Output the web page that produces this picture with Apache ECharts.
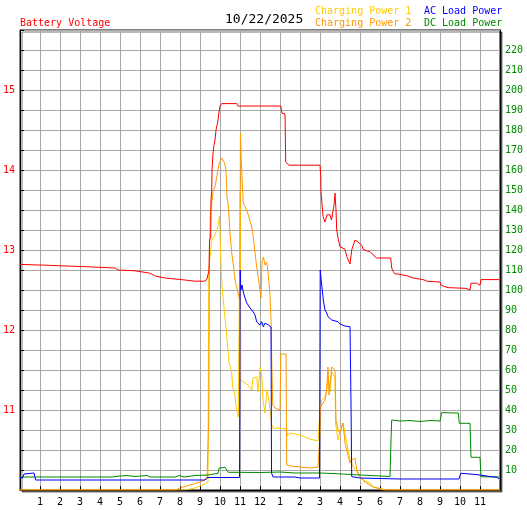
<!DOCTYPE html>
<html>
<head>
<meta charset="utf-8">
<script src="https://cdn.jsdelivr.net/npm/echarts@6/dist/echarts.min.js"></script>
<style>html,body{margin:0;padding:0;background:#fff;}#c{width:527px;height:510px;}</style>
</head>
<body>
<div id="c"></div>
<script>
// ---- Data (hours since midnight) ----
const dateLabel = '10/22/2025';
const hourTicks = [1,2,3,4,5,6,7,8,9,10,11,12,1,2,3,4,5,6,7,8,9,10,11];

const batteryHours = [0,1.25,3.4,3.5,4.75,4.9,5.75,6.5,6.75,7.25,8.25,8.75,9.25,9.35,9.425,9.45,9.475,9.535,9.55,9.585,9.6,9.65,9.7,9.75,9.8,9.85,9.9,9.95,10.0,10.085,10.835,10.9,12.035,12.085,12.125,13.035,13.085,13.1,13.25,13.285,13.365,13.45,15.0,15.035,15.05,15.1,15.15,15.25,15.35,15.5,15.575,15.65,15.7,15.75,15.8,15.835,15.9,16.0,16.085,16.25,16.335,16.5,16.585,16.75,16.835,16.9,17.085,17.15,17.335,17.4,17.5,17.65,17.835,17.875,18.535,18.585,18.665,18.75,18.9,19.0,19.4,19.5,19.65,19.75,20.15,20.25,20.335,20.4,21.0,21.05,21.25,21.335,21.415,21.5,22.3,22.35,22.5,22.55,22.835,22.85,23.0,23.05,23.95];
const batteryVolts = [12.82,12.81,12.79,12.775,12.775,12.75,12.74,12.71,12.675,12.65,12.625,12.61,12.61,12.64,12.64,12.75,13.125,13.16,13.625,13.75,14.0,14.21,14.31,14.375,14.5,14.56,14.625,14.725,14.8,14.83,14.83,14.80,14.80,14.775,14.80,14.80,14.775,14.71,14.70,14.10,14.075,14.06,14.06,13.94,13.73,13.71,13.42,13.35,13.44,13.44,13.375,13.375,13.56,13.71,13.5,13.25,13.15,13.04,13.02,13.01,12.92,12.825,13.0,13.125,13.13,13.10,13.06,13.01,12.99,12.98,12.98,12.94,12.90,12.90,12.90,12.775,12.73,12.70,12.70,12.675,12.675,12.65,12.65,12.63,12.63,12.61,12.61,12.60,12.60,12.56,12.54,12.53,12.53,12.52,12.52,12.50,12.50,12.585,12.585,12.56,12.56,12.63,12.63];

const charge1Hours = [0,8.25,8.5,8.75,9.0,9.25,9.4,9.435,9.535,9.6,9.7,9.85,9.9,9.975,10.015,10.04,10.1,10.25,10.375,10.45,10.585,10.625,10.75,10.8,10.915,10.975,11.01,11.04,11.1,11.25,11.4,11.585,11.65,11.75,11.835,11.9,12.0,12.085,12.15,12.25,12.335,12.415,12.5,12.585,12.665,13.085,13.325,13.365,13.5,14.0,14.5,14.9,14.975,15.0,15.085,15.25,15.335,15.4,15.5,15.585,15.75,15.775,15.9,16.0,16.15,16.25,16.4,16.5,16.65,16.835,17.0,17.25,17.5,17.65,18.0,18.15,24];
const charge1Watts = [0,0,0.5,1,2,3,4,110,120,125,126.5,130,132.5,137,137.5,115,101.5,86,72.5,64,58.5,52,47.5,42,36.5,36,150,55,56,53.5,52.5,50,56,55,56.5,49,61.5,57.5,45,38.5,50,46.5,40,32.5,30.85,30.85,30.5,27,28.5,27.5,25.5,24.5,24.5,40,45,46.5,51,57.5,49,59,56.5,33.5,25,30,33.5,28.5,20,15,12,9,6.5,4.5,3.5,1.5,0.5,0,0];

const charge2Hours = [0,7.8,8.0,8.5,9.0,9.35,9.415,9.435,9.475,9.525,9.585,9.665,9.75,9.835,9.965,10.085,10.165,10.225,10.3,10.35,10.415,10.5,10.585,10.675,10.75,10.9,10.99,11.02,11.06,11.125,11.165,11.25,11.335,11.415,11.5,11.585,11.665,11.75,11.835,11.915,12.0,12.05,12.1,12.165,12.25,12.335,12.415,12.5,12.55,12.585,12.635,12.75,13.0,13.04,13.3,13.335,13.5,14.0,14.5,14.9,14.975,15.0,15.035,15.25,15.335,15.4,15.45,15.5,15.585,15.65,15.75,15.8,15.9,16.0,16.085,16.15,16.25,16.335,16.5,16.585,16.75,16.835,17.0,17.25,17.65,18.0,18.3,24];
const charge2Watts = [0,0,1,2.5,4,5.5,6,35,120,140,143.5,150,151.5,156.5,163.5,166,166.65,163.5,160,146.5,142.5,128.5,118.5,112,105,98.5,95,178.5,165,151.5,143.5,142,141.5,137.5,137.5,131.5,126.5,118.5,111.5,106,100,96,114,116.5,112.5,114,107.5,97.5,85,65,42.5,41,40,68,68,12.5,12,11.5,11,11.5,11.5,28.5,41.5,45,50,61.5,47.5,52.5,61.5,61,60,35,30,28.5,31.5,33.5,23.5,20,13.5,15,16,10,6.5,4,1.5,0.75,0,0];

const acLoadHours = [0,0.125,0.2,0.3,0.7,0.775,9.25,9.35,10.975,11.01,11.04,11.1,11.165,11.25,11.335,11.415,11.5,11.585,11.665,11.75,11.835,11.915,12.0,12.085,12.165,12.25,12.335,12.415,12.5,12.55,12.575,12.65,13.75,14.0,14.975,15.01,15.085,15.165,15.25,15.335,15.4,15.5,15.585,15.65,15.9,16.0,16.25,16.335,16.5,16.55,16.585,17.0,19.0,21.95,22.035,22.5,23.0,23.5,23.85,23.95];
const acLoadWatts = [6,6,8,8.5,8.5,5,5,6.25,6.25,110,100,102.5,99,96,93.5,92.5,91,90,89,87.5,84,85,82.5,84.15,81.65,83.5,84,82.5,81.5,81.5,8.5,6.5,6.5,6,6,110,102.5,95,90,88.5,86.65,86,85,84.15,84.15,83,82,81.65,81.65,43.5,6.65,6,5.5,5.5,8.35,8,7.5,6.75,6.35,5.5];

const dcLoadHours = [0,1.35,1.4,1.5,3.85,3.9,4.0,4.6,4.7,5.0,5.35,5.75,6.35,6.5,7.8,7.95,8.2,8.75,9.4,9.45,9.9,9.95,10.0,10.25,10.335,10.415,10.9,11.0,12.0,13.0,13.75,15.0,15.65,15.7,17.0,17.1,18.5,18.55,18.585,19.0,19.5,20.0,20.5,21.0,21.085,21.915,21.965,22.5,22.55,23.0,23.05,24.0];
const dcLoadWatts = [6.5,6.5,7.25,6.5,6.5,7.25,6.5,6.5,7.25,7,7.25,6.75,7.25,6.5,6.5,7.25,6.5,7.25,7.5,8.35,8.35,10.85,11.35,11.35,10,8.85,8.85,9.15,8.75,9,8.5,8.5,8.25,7.5,7.5,6.75,6.75,25,35,34.5,34.75,34.25,34.75,34.5,38.65,38.5,33.35,33.35,16.35,16.35,6.65,6.5];

// ---- Chart ----
const FONT = 'DejaVu Sans Mono';
const pairs = (xs, ys) => xs.map((x, i) => [x, ys[i]]);
const chart = echarts.init(document.getElementById('c'), null, {renderer: 'canvas'});

function legendTitle(text, left, top, color, size) {
  return {text, left, top, padding: 0,
    textStyle: {color, fontSize: size || 10, fontFamily: FONT, fontWeight: 'normal'}};
}

const lineSeries = (name, data, color, yIndex) => ({
  name, type: 'line', data, yAxisIndex: yIndex, showSymbol: false, symbol: 'none',
  lineStyle: {color, width: 1}, itemStyle: {color}, animation: false, z: 3
});

chart.setOption({
  animation: false,
  backgroundColor: '#fff',
  title: [
    legendTitle('Battery Voltage', 20, 18, '#ff0000'),
    legendTitle(dateLabel, 225, 13, '#000000', 13),
    legendTitle('Charging Power 1', 315, 6, '#ffcc00'),
    legendTitle('Charging Power 2', 315, 18, '#ff9900'),
    legendTitle('AC Load Power', 424, 6, '#0000ff'),
    legendTitle('DC Load Power', 424, 18, '#008800')
  ],
  grid: {
    left: 20, right: 27, top: 30, bottom: 20, show: true,
    backgroundColor: '#fff', borderColor: '#000', borderWidth: 1,
    shadowColor: 'rgba(0,0,0,0.55)', shadowOffsetX: 2, shadowOffsetY: 2, shadowBlur: 0
  },
  xAxis: {
    type: 'value', min: 0, max: 24, interval: 1,
    axisLine: {show: true, lineStyle: {color: '#000'}},
    axisTick: {show: true, inside: true, length: 4, lineStyle: {color: '#000'}},
    splitLine: {show: true, lineStyle: {color: '#a8a8a8', width: 1}},
    axisLabel: {
      color: '#000', fontSize: 10, fontFamily: FONT, margin: 7,
      formatter: v => (v <= 0 || v >= 24) ? '' : String(hourTicks[v - 1])
    }
  },
  yAxis: [
    {
      type: 'value', min: 10, max: 15.75, interval: 0.25, position: 'left',
      axisLine: {show: true, lineStyle: {color: '#000'}},
      axisTick: {show: true, inside: true, length: 4, lineStyle: {color: '#000'}},
      splitLine: {show: true, lineStyle: {color: '#a8a8a8', width: 1}},
      axisLabel: {
        color: '#ff0000', fontSize: 10, fontFamily: FONT, margin: 5,
        formatter: v => (Math.abs(v - Math.round(v)) < 1e-6 && v >= 11 && v <= 15) ? String(Math.round(v)) : ''
      }
    },
    {
      type: 'value', min: 0, max: 230, interval: 10, position: 'right',
      axisLine: {show: true, lineStyle: {color: '#000'}},
      axisTick: {show: false},
      splitLine: {show: false},
      axisLabel: {
        color: '#008800', fontSize: 10, fontFamily: FONT, margin: 5,
        formatter: v => (v <= 0 || v >= 230) ? '' : String(v)
      }
    }
  ],
  series: [
    lineSeries('Charging Power 1', pairs(charge1Hours, charge1Watts), '#ffcc00', 1),
    lineSeries('Charging Power 2', pairs(charge2Hours, charge2Watts), '#ff9900', 1),
    lineSeries('DC Load Power', pairs(dcLoadHours, dcLoadWatts), '#008800', 1),
    lineSeries('AC Load Power', pairs(acLoadHours, acLoadWatts), '#0000ff', 1),
    lineSeries('Battery Voltage', pairs(batteryHours, batteryVolts), '#ff0000', 0)
  ]
});
</script>
</body>
</html>
